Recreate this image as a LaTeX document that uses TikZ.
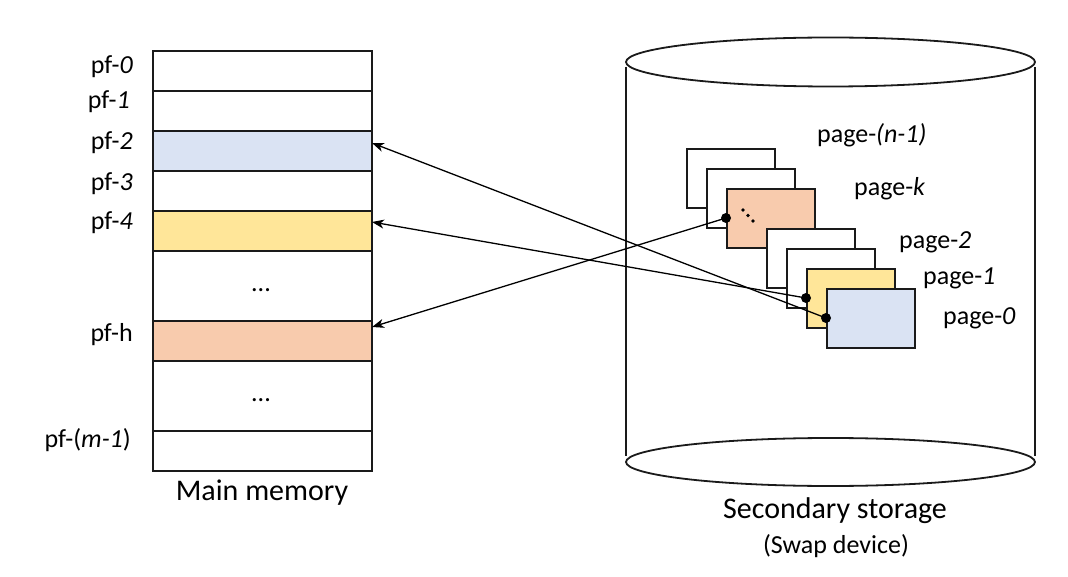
\documentclass[tikz,border=0pt]{standalone}
\usepackage{fontspec}
\setmainfont{Carlito}
\usetikzlibrary{arrows.meta}
\definecolor{ink}{HTML}{1A1A1A}
\definecolor{pblue}{HTML}{DAE3F3}
\definecolor{pyellow}{HTML}{FFE699}
\definecolor{porange}{HTML}{F8CBAD}
\tikzset{
  memrow/.style={draw=ink, line width=1.8pt, minimum width=219pt, inner sep=0pt, anchor=north west},
  pagebox/.style={draw=ink, line width=1.7pt, fill=white, minimum width=88pt, minimum height=59pt, inner sep=0pt, anchor=north west},
  lbl/.style={font=\fontsize{26}{30}\selectfont, inner sep=0pt},
  bigl/.style={font=\fontsize{30}{34}\selectfont, inner sep=0pt},
  pin/.style={circle, fill=black, inner sep=0pt, minimum size=10pt},
  arr/.style={line width=1.3pt, -{Stealth[length=12pt,width=9pt,inset=3.5pt]}},
  cyl/.style={line width=1.8pt, draw=ink}
}
\begin{document}
\begin{tikzpicture}[x=1pt,y=-1pt]
\useasboundingbox (0,0) rectangle (1068,577);
% main memory
\node[memrow, minimum height=40pt] (r0) at (152,50) {};
\node[memrow, minimum height=40pt] (r1) at (152,90) {};
\node[memrow, minimum height=40pt, fill=pblue] (r2) at (152,130) {};
\node[memrow, minimum height=40pt] (r3) at (152,170) {};
\node[memrow, minimum height=40pt, fill=pyellow] (r4) at (152,210) {};
\node[memrow, minimum height=70pt] (rd1) at (152,250) {};
\node[memrow, minimum height=40pt, fill=porange] (rh) at (152,320) {};
\node[memrow, minimum height=70pt] (rd2) at (152,360) {};
\node[memrow, minimum height=40pt] (rm) at (152,430) {};
\node[lbl] (dots1) at (261,290) {...};
\node[lbl] (dots2) at (261,400) {...};
\node[lbl, anchor=east] (l0) at (133,67) {pf-\textit{0}};
\node[lbl, anchor=east] (l1) at (130,102) {pf-\textit{1}};
\node[lbl, anchor=east] (l2) at (133,143) {pf-\textit{2}};
\node[lbl, anchor=east] (l3) at (133,184) {pf-\textit{3}};
\node[lbl, anchor=east] (l4) at (133,223) {pf-\textit{4}};
\node[lbl, anchor=east] (lh) at (133,335) {pf-h};
\node[lbl, anchor=east] (lm) at (131,440) {pf-(\textit{m-1})};
\node[bigl] (mm) at (262,493) {Main memory};
% cylinder
\draw[cyl] (626,67) -- (626,456);
\draw[cyl] (1035,67) -- (1035,456);
\draw[cyl, fill=white] (830.5,62) ellipse [x radius=204.5, y radius=24.5];
\draw[cyl, fill=white] (830.5,462) ellipse [x radius=204.5, y radius=24];
\node[bigl] (ss) at (835,511) {Secondary storage};
\node[font=\fontsize{26}{30}\selectfont, inner sep=0pt] (sd) at (836,546) {(Swap device)};
% pages
\node[pagebox] (pA) at (686,148) {};
\node[pagebox] (pB) at (706,168) {};
\node[pagebox, fill=porange] (pC) at (726,188) {};
\node[pagebox] (pD) at (766,228) {};
\node[pagebox] (pE) at (786,248) {};
\node[pagebox, fill=pyellow] (pF) at (806,268) {};
\node[pagebox, fill=pblue] (pG) at (826,288) {};
\fill (743,210) circle (1.8);
\fill (748,215.5) circle (1.8);
\fill (753,221) circle (1.8);
\node[lbl, anchor=west] (tn) at (817,135) {page-\textit{(n-1)}};
\node[lbl, anchor=west] (tk) at (854,189) {page-\textit{k}};
\node[lbl, anchor=west] (t2) at (899,242) {page-\textit{2}};
\node[lbl, anchor=west] (t1) at (923,278) {page-\textit{1}};
\node[lbl, anchor=west] (t0) at (943,318) {page-\textit{0}};
% pins and arrows
\node[pin] (dC) at (726,218) {};
\node[pin] (dF) at (806,298) {};
\node[pin] (dG) at (826,318) {};
\coordinate (e2) at (372,143);
\coordinate (e4) at (372,222);
\coordinate (eh) at (372,327);
\draw[arr] (dG.center) -- (e2);
\draw[arr] (dF.center) -- (e4);
\draw[arr] (dC.center) -- (eh);
\end{tikzpicture}
\end{document}
